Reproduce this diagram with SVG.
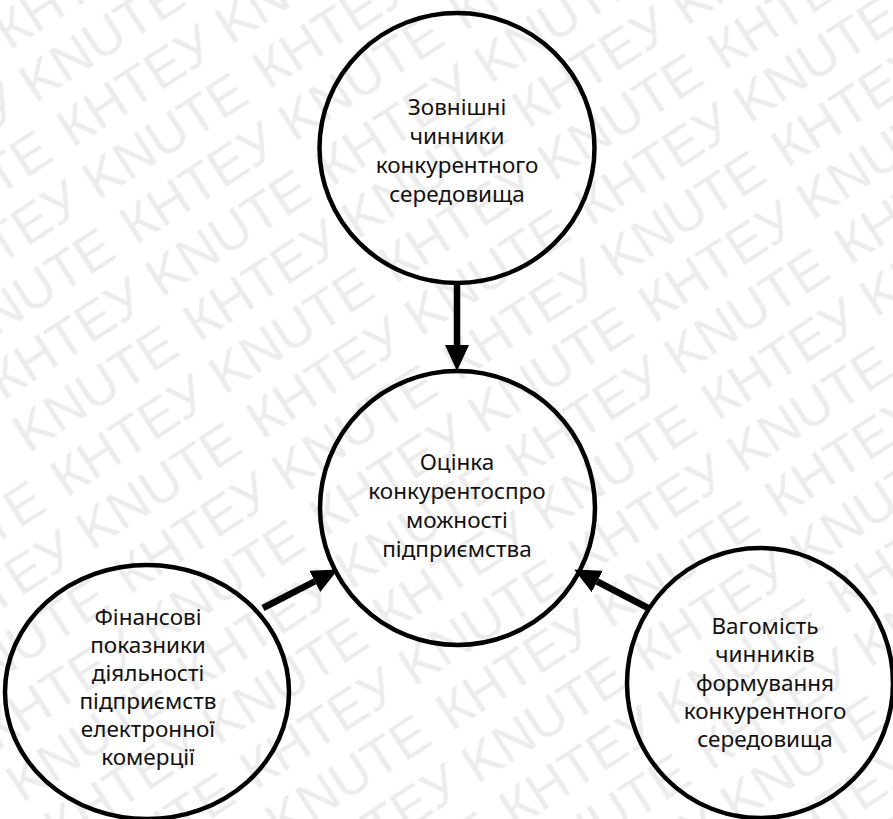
<svg xmlns="http://www.w3.org/2000/svg" width="893" height="819" viewBox="0 0 893 819">
  <defs>
    <style>
      .node { fill: none; stroke: #000; stroke-width: 4.5; }
      .lbl { font-family: "Noto Sans", "Open Sans", "DejaVu Sans", sans-serif; font-size: 22.5px; fill: #111; text-anchor: middle; }
      .edge { stroke: #000; stroke-width: 6.5; fill: none; }
      .wm { font-family: "Liberation Sans", Arial, sans-serif; font-size: 54px; fill: #ececec; }
    </style>
    <marker id="arrow" markerUnits="userSpaceOnUse" markerWidth="27" markerHeight="25" refX="0" refY="12" orient="auto" viewBox="0 0 27 25">
      <path d="M0,0 L26,12 L0,24 Z" fill="#000"/>
    </marker>
    <pattern id="wmPat" patternUnits="userSpaceOnUse" width="392" height="116" patternTransform="rotate(-33) translate(-20 0)">
      <text class="wm" x="0" y="48">КНТЕУ KNUTE</text>
      <text class="wm" x="196" y="106">КНТЕУ KNUTE</text>
      <text class="wm" x="-196" y="106">КНТЕУ KNUTE</text>
    </pattern>
  </defs>

  <rect id="background" x="0" y="0" width="893" height="819" fill="#fff"/>
  <rect id="watermark" x="0" y="0" width="893" height="819" fill="url(#wmPat)"/>

  <g id="connectors">
    <line class="edge" x1="457" y1="283" x2="457" y2="345" marker-end="url(#arrow)"/>
    <line class="edge" x1="263" y1="608" x2="314.8" y2="581.4" marker-end="url(#arrow)"/>
    <line class="edge" x1="648" y1="608" x2="597.2" y2="581.5" marker-end="url(#arrow)"/>
  </g>

  <g id="node-external">
    <ellipse class="node" cx="457" cy="148" rx="137.5" ry="135"/>
    <text class="lbl" x="457" y="115">Зовнішні</text>
    <text class="lbl" x="457" y="144">чинники</text>
    <text class="lbl" x="457" y="173">конкурентного</text>
    <text class="lbl" x="457" y="202">середовища</text>
  </g>

  <g id="node-center">
    <ellipse class="node" cx="457.5" cy="508" rx="137.5" ry="137"/>
    <text class="lbl" x="457" y="470">Оцінка</text>
    <text class="lbl" x="457" y="499">конкурентоспро</text>
    <text class="lbl" x="457" y="528">можності</text>
    <text class="lbl" x="457" y="557">підприємства</text>
  </g>

  <g id="node-financial">
    <ellipse class="node" cx="147" cy="692" rx="142" ry="127"/>
    <text class="lbl" x="148" y="625">Фінансові</text>
    <text class="lbl" x="148" y="653">показники</text>
    <text class="lbl" x="148" y="681">діяльності</text>
    <text class="lbl" x="148" y="709">підприємств</text>
    <text class="lbl" x="148" y="737">електронної</text>
    <text class="lbl" x="148" y="765">комерції</text>
  </g>

  <g id="node-weight">
    <ellipse class="node" cx="760" cy="683" rx="133" ry="135"/>
    <text class="lbl" x="765" y="634">Вагомість</text>
    <text class="lbl" x="765" y="662">чинників</text>
    <text class="lbl" x="765" y="691">формування</text>
    <text class="lbl" x="765" y="719">конкурентного</text>
    <text class="lbl" x="765" y="747">середовища</text>
  </g>
</svg>
